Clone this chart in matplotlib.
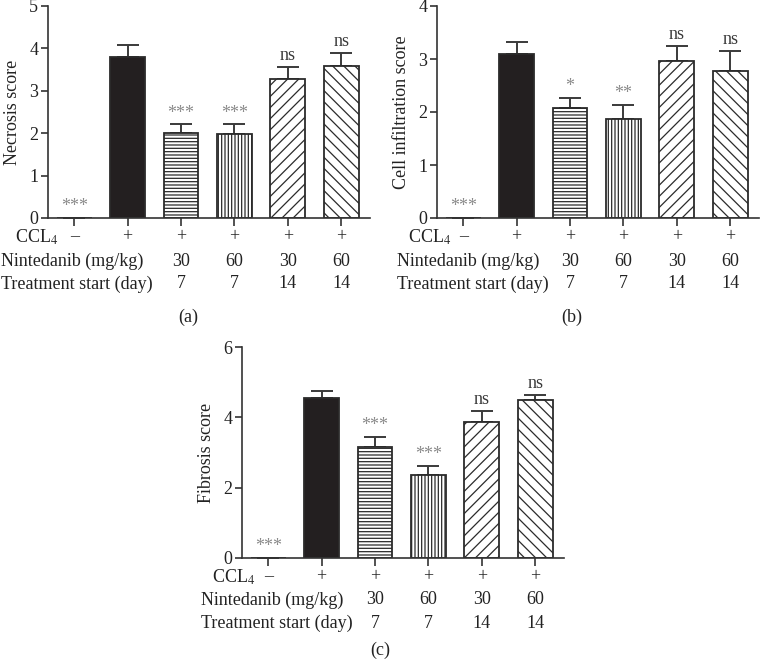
import matplotlib
matplotlib.use("Agg")
import matplotlib.pyplot as plt
from matplotlib.transforms import blended_transform_factory

plt.rcParams['font.family'] = ['Liberation Serif', 'DejaVu Serif']
plt.rcParams['mathtext.fontset'] = 'stix'
plt.rcParams['hatch.linewidth'] = 0.9

# --- data ---
groups = ["ctrl", "CCL4", "N30-d7", "N60-d7", "N30-d14", "N60-d14"]
ccl4_row = ["–", "+", "+", "+", "+", "+"]
dose_row = ["", "", "30", "60", "30", "60"]
start_row = ["", "", "7", "7", "14", "14"]

necrosis = [0, 3.80, 2.01, 1.99, 3.29, 3.59]
necrosis_err = [0, 0.27, 0.20, 0.22, 0.28, 0.30]
necrosis_sig = ["***", "", "***", "***", "ns", "ns"]

infiltration = [0, 3.09, 2.07, 1.87, 2.97, 2.78]
infiltration_err = [0, 0.23, 0.20, 0.26, 0.28, 0.38]
infiltration_sig = ["***", "", "*", "**", "ns", "ns"]

fibrosis = [0, 4.55, 3.16, 2.35, 3.88, 4.49]
fibrosis_err = [0, 0.19, 0.29, 0.27, 0.31, 0.15]
fibrosis_sig = ["***", "", "***", "***", "ns", "ns"]

# --- style ---
W, H = 760, 664
hatches = ["", "", "-----", "|||||", "///", "\\\\\\"]
faces = ["white", "#231f20", "white", "white", "white", "white"]
edge = "#2b2b2b"

panels = [
    # values, err, sig, ylabel, yticks, axes px (left, right, bottom, top), row ys, label x px, tag, tag x, tag y
    (necrosis, necrosis_err, necrosis_sig, "Necrosis score", [0, 1, 2, 3, 4, 5],
     (48, 370, 218, 6), (237, 261, 284), (1, 15), "(a)", 188, 317),
    (infiltration, infiltration_err, infiltration_sig, "Cell infiltration score", [0, 1, 2, 3, 4],
     (437, 759, 218, 6), (237, 261, 284), (397, 408), "(b)", 572, 317),
    (fibrosis, fibrosis_err, fibrosis_sig, "Fibrosis score", [0, 2, 4, 6],
     (242, 564, 558, 347), (577, 600, 623), (201, 212), "(c)", 380, 650),
]

fig = plt.figure(figsize=(W / 100, H / 100), dpi=100)

for vals, errs, sigs, ylab, yt, box, rows, labx, tag, tagx, tagy in panels:
    l, r, b, t = box
    ax = fig.add_axes([l / W, 1 - b / H, (r - l) / W, (b - t) / H])
    x = list(range(len(groups)))
    for i in x:
        ax.bar(i, vals[i], width=0.65, color=faces[i], edgecolor=edge,
               hatch=hatches[i], linewidth=1.3, zorder=2)
    ax.errorbar(x, vals, yerr=[[0] * len(errs), errs], fmt="none",
                ecolor="#3a3a3a", elinewidth=1.4, capsize=8, capthick=1.4, zorder=1)
    for i in x:
        if sigs[i]:
            stars = "*" in sigs[i]
            ax.annotate(sigs[i], (i, vals[i] + errs[i]), xytext=(0, 2),
                        textcoords="offset points", ha="center", va="bottom",
                        fontsize=13, color="#8a8a8a" if stars else "#3a3a3a")

    ax.set_xlim(-0.49, 5.54)
    ax.set_ylim(0, yt[-1])
    ax.set_yticks(yt)
    ax.set_xticks(x)
    ax.set_xticklabels([])
    ax.spines["top"].set_visible(False)
    ax.spines["right"].set_visible(False)
    for s in ["left", "bottom"]:
        ax.spines[s].set_linewidth(1.2)
        ax.spines[s].set_color("#333333")
    ax.tick_params(axis="x", length=6, width=1.2, color="#333333")
    ax.tick_params(axis="y", length=5, width=1.2, color="#333333",
                   labelsize=13, pad=2, labelcolor="#222222")
    ax.set_ylabel(ylab, fontsize=13, color="#222222", labelpad=6)

    # condition table under the axis
    tr = blended_transform_factory(ax.transData, fig.transFigure)
    for row_vals, yp in zip([ccl4_row, dose_row, start_row], rows):
        for i in x:
            ax.text(i, 1 - yp / H, row_vals[i], transform=tr, ha="center",
                    va="center", fontsize=13, color="#222222")
    fig.text(labx[1] / W, 1 - rows[0] / H, "CCL$_4$", ha="left", va="center",
             fontsize=13, color="#222222")
    fig.text(labx[0] / W, 1 - rows[1] / H, "Nintedanib (mg/kg)", ha="left",
             va="center", fontsize=13, color="#222222")
    fig.text(labx[0] / W, 1 - rows[2] / H, "Treatment start (day)", ha="left",
             va="center", fontsize=13, color="#222222")
    fig.text(tagx / W, 1 - tagy / H, tag, ha="center", va="center",
             fontsize=13, color="#222222")

fig.savefig("out.png", dpi=100)
